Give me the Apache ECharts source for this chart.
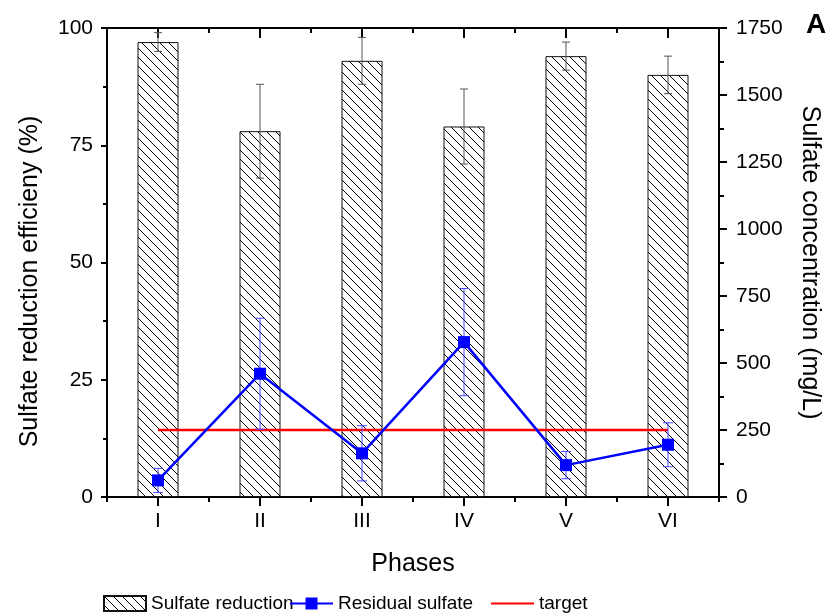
<!DOCTYPE html>
<html>
<head>
<meta charset="utf-8">
<script src="https://cdn.jsdelivr.net/npm/echarts@6/dist/echarts.min.js"></script>
<style>
  html, body { margin: 0; padding: 0; background: #fff; }
  #chart { width: 830px; height: 614px; }
</style>
</head>
<body>
<div id="chart"></div>
<script>
// Phases of operation
const phases = ['I', 'II', 'III', 'IV', 'V', 'VI'];
// Sulfate reduction efficiency (%) and its standard deviation
const reductionEfficiency = [97, 78, 93, 79, 94, 90];
const reductionError = [2, 10, 5, 8, 3, 4];
// Residual sulfate (mg/L) and its standard deviation
const residualSulfate = [62, 460, 163, 578, 119, 195];
const residualError = [45, 207, 103, 200, 51, 82];
// Discharge target (mg/L)
const targetSulfate = [250, 250, 250, 250, 250, 250];

const FONT = '"Liberation Sans", Arial, Helvetica, sans-serif';

// Diagonal hatch tile for the bars
function makeHatch() {
  const size = 9;
  const c = document.createElement('canvas');
  c.width = size; c.height = size;
  const ctx = c.getContext('2d');
  ctx.fillStyle = '#fff';
  ctx.fillRect(0, 0, size, size);
  ctx.strokeStyle = '#000';
  ctx.lineWidth = 1;
  ctx.beginPath();
  ctx.moveTo(-1, -1); ctx.lineTo(size + 1, size + 1);
  ctx.moveTo(-1, size - 1); ctx.lineTo(1, size + 1);
  ctx.moveTo(size - 1, -1); ctx.lineTo(size + 1, 1);
  ctx.stroke();
  return c;
}

function errorRows(values, errors) {
  return values.map((v, i) => [i, v - errors[i], v + errors[i]]);
}

function errorBarRenderer(color, cap) {
  return function (params, api) {
    const x = api.value(0);
    const lo = api.coord([x, api.value(1)]);
    const hi = api.coord([x, api.value(2)]);
    const style = { stroke: color, lineWidth: 1, fill: null };
    return {
      type: 'group',
      children: [
        { type: 'line', shape: { x1: lo[0], y1: lo[1], x2: hi[0], y2: hi[1] }, style },
        { type: 'line', shape: { x1: lo[0] - cap, y1: lo[1], x2: lo[0] + cap, y2: lo[1] }, style },
        { type: 'line', shape: { x1: hi[0] - cap, y1: hi[1], x2: hi[0] + cap, y2: hi[1] }, style }
      ]
    };
  };
}

const axisLine = { show: true, lineStyle: { color: '#000', width: 2 } };
const hidden = { show: false };
const legendText = { fontFamily: FONT, fontSize: 19, color: '#000' };

const chart = echarts.init(document.getElementById('chart'), null, { renderer: 'canvas' });

chart.setOption({
  animation: false,
  backgroundColor: '#fff',
  textStyle: { fontFamily: FONT, color: '#000' },
  grid: { left: 107, right: 111, top: 28, bottom: 117 },
  legend: [
    {
      data: [{ name: 'Sulfate reduction', icon: 'rect' }], left: 98, top: 589,
      itemWidth: 42, itemHeight: 15, textStyle: legendText
    },
    {
      data: ['Residual sulfate'], left: 284, top: 589,
      itemWidth: 43, itemHeight: 15, textStyle: legendText
    },
    {
      data: [{ name: 'target', icon: 'rect' }], left: 486, top: 589,
      itemWidth: 43, itemHeight: 2, textStyle: legendText
    }
  ],
  xAxis: [
    {
      type: 'category', data: phases, position: 'bottom',
      name: 'Phases', nameLocation: 'middle', nameGap: 55,
      nameTextStyle: { fontFamily: FONT, fontSize: 25, color: '#000' },
      axisLine,
      axisTick: { show: true, alignWithLabel: true, length: 9, lineStyle: { color: '#000', width: 2 } },
      axisLabel: { margin: 14, fontFamily: FONT, fontSize: 21, color: '#000' },
      splitLine: hidden
    },
    {
      type: 'category', data: phases, position: 'bottom',
      axisLine: hidden, axisLabel: hidden, splitLine: hidden,
      axisTick: { show: true, length: 5, lineStyle: { color: '#000', width: 2 } }
    },
    {
      type: 'category', data: phases, position: 'top',
      axisLine, axisLabel: hidden, splitLine: hidden,
      axisTick: { show: true, alignWithLabel: true, inside: true, length: 10, lineStyle: { color: '#000', width: 2 } }
    },
    {
      type: 'category', data: phases, position: 'top',
      axisLine: hidden, axisLabel: hidden, splitLine: hidden,
      axisTick: { show: true, inside: true, length: 5, lineStyle: { color: '#000', width: 2 } }
    }
  ],
  yAxis: [
    {
      type: 'value', position: 'left', min: 0, max: 100, interval: 25,
      name: 'Sulfate reduction efficieny (%)', nameLocation: 'middle', nameGap: 64, nameRotate: 90,
      nameTextStyle: { fontFamily: FONT, fontSize: 25, color: '#000', padding: [0, 38, 0, 0] },
      axisLine,
      axisTick: { show: true, length: 6, lineStyle: { color: '#000', width: 2 } },
      minorTick: { show: true, splitNumber: 2, length: 4, lineStyle: { color: '#000', width: 2 } },
      axisLabel: { margin: 14, fontFamily: FONT, fontSize: 21, color: '#000' },
      splitLine: hidden
    },
    {
      type: 'value', position: 'right', min: 0, max: 1750, interval: 250,
      name: 'Sulfate concentration (mg/L)', nameLocation: 'middle', nameGap: 78, nameRotate: -90,
      nameTextStyle: { fontFamily: FONT, fontSize: 25, color: '#000' },
      axisLine,
      axisTick: { show: true, length: 8, lineStyle: { color: '#000', width: 2 } },
      minorTick: { show: true, splitNumber: 2, length: 5, lineStyle: { color: '#000', width: 2 } },
      axisLabel: {
        margin: 17, fontFamily: FONT, fontSize: 21, color: '#000',
        formatter: (v) => String(v)
      },
      splitLine: hidden
    }
  ],
  graphic: [
    {
      type: 'text', left: 806, top: 11,
      style: { text: 'A', fontFamily: FONT, fontSize: 28, fontWeight: 'bold', fill: '#000' }
    }
  ],
  series: [
    {
      name: 'Sulfate reduction', type: 'bar', xAxisIndex: 0, yAxisIndex: 0,
      data: reductionEfficiency, barWidth: 41, z: 2,
      itemStyle: {
        color: { image: makeHatch(), repeat: 'repeat' },
        borderColor: '#111', borderWidth: 1
      }
    },
    {
      name: 'Reduction error', type: 'custom', xAxisIndex: 0, yAxisIndex: 0,
      data: errorRows(reductionEfficiency, reductionError),
      encode: { x: 0, y: [1, 2] }, z: 3, silent: true,
      renderItem: errorBarRenderer('#555', 4)
    },
    {
      name: 'target', type: 'line', xAxisIndex: 0, yAxisIndex: 1,
      data: targetSulfate, symbol: 'none', z: 4,
      lineStyle: { color: '#ff0000', width: 2.5 },
      itemStyle: { color: '#ff0000' }
    },
    {
      name: 'Residual error', type: 'custom', xAxisIndex: 0, yAxisIndex: 1,
      data: errorRows(residualSulfate, residualError),
      encode: { x: 0, y: [1, 2] }, z: 5, silent: true,
      renderItem: errorBarRenderer('#4a4aff', 5)
    },
    {
      name: 'Residual sulfate', type: 'line', xAxisIndex: 0, yAxisIndex: 1,
      data: residualSulfate, symbol: 'rect', symbolSize: 12, z: 6,
      lineStyle: { color: '#0000ff', width: 2.5 },
      itemStyle: { color: '#0000ff' }
    }
  ]
});
</script>
</body>
</html>
